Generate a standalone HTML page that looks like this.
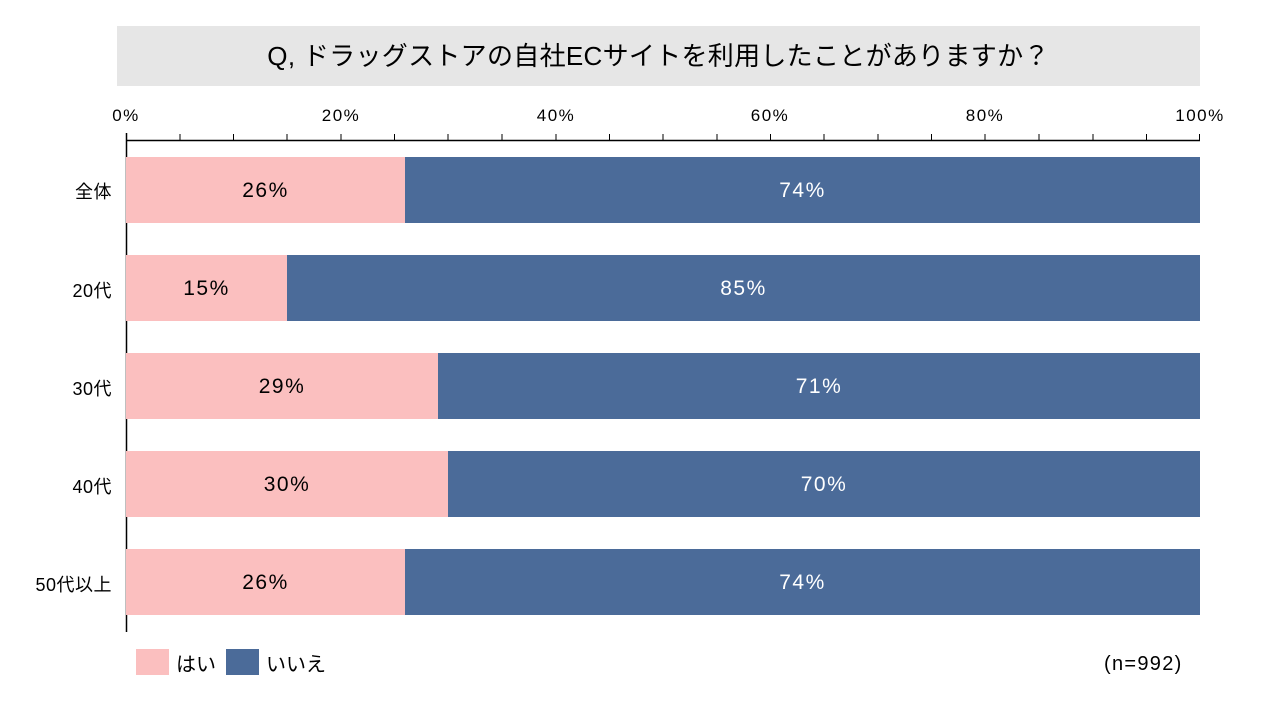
<!DOCTYPE html>
<html><head><meta charset="utf-8"><style>
body{margin:0;width:1280px;height:720px;background:#fff;font-family:"Liberation Sans","Noto Sans CJK JP",sans-serif;position:relative;overflow:hidden;color:#000}
.a{position:absolute}
.t{left:117px;top:26px;width:1083px;height:60px;background:#e6e6e6;font-size:26px;line-height:60px;text-align:center;letter-spacing:0.3px}
.tk{font-size:17px;top:106px;width:80px;text-align:center;letter-spacing:1.5px}
.bar{left:126px;width:1074px;height:66px;display:flex;font-size:21px;line-height:68px;text-align:center;letter-spacing:1.5px}
.p{background:#fbbfbf}.b{background:#4b6b99;color:#fff}
.lab{font-size:18px;right:1168px;text-align:right;white-space:nowrap;letter-spacing:0.5px}
</style></head><body>
<div class="a t">Q, ドラッグストアの自社ECサイトを利用したことがありますか？</div>
<div class="a tk" style="left:86px">0%</div>
<div class="a tk" style="left:301px">20%</div>
<div class="a tk" style="left:516px">40%</div>
<div class="a tk" style="left:730px">60%</div>
<div class="a tk" style="left:945px">80%</div>
<div class="a tk" style="left:1160px">100%</div>
<svg class="a" style="left:0;top:0" width="1280" height="720">
<line x1="126" y1="140.5" x2="1200" y2="140.5" stroke="#000" stroke-width="1.5"/>
<line x1="126.5" y1="133" x2="126.5" y2="632" stroke="#000" stroke-width="1.5"/>
<g stroke="#000" stroke-width="1">
<line x1="180" y1="134" x2="180" y2="140"/><line x1="233.5" y1="134" x2="233.5" y2="140"/><line x1="287" y1="134" x2="287" y2="140"/><line x1="341" y1="134" x2="341" y2="140"/><line x1="394.5" y1="134" x2="394.5" y2="140"/><line x1="448" y1="134" x2="448" y2="140"/><line x1="502" y1="134" x2="502" y2="140"/><line x1="556" y1="134" x2="556" y2="140"/><line x1="609.5" y1="134" x2="609.5" y2="140"/><line x1="663" y1="134" x2="663" y2="140"/><line x1="717" y1="134" x2="717" y2="140"/><line x1="770.5" y1="134" x2="770.5" y2="140"/><line x1="824" y1="134" x2="824" y2="140"/><line x1="878" y1="134" x2="878" y2="140"/><line x1="931.5" y1="134" x2="931.5" y2="140"/><line x1="985" y1="134" x2="985" y2="140"/><line x1="1039" y1="134" x2="1039" y2="140"/><line x1="1093" y1="134" x2="1093" y2="140"/><line x1="1146.5" y1="134" x2="1146.5" y2="140"/><line x1="1199.5" y1="134" x2="1199.5" y2="140"/>
</g></svg>
<div class="a bar" style="top:157px"><div class="p" style="width:279px">26%</div><div class="b" style="flex:1">74%</div></div>
<div class="a bar" style="top:255px"><div class="p" style="width:161px">15%</div><div class="b" style="flex:1">85%</div></div>
<div class="a bar" style="top:353px"><div class="p" style="width:312px">29%</div><div class="b" style="flex:1">71%</div></div>
<div class="a bar" style="top:451px"><div class="p" style="width:322px">30%</div><div class="b" style="flex:1">70%</div></div>
<div class="a bar" style="top:549px"><div class="p" style="width:279px">26%</div><div class="b" style="flex:1">74%</div></div>
<div class="a lab" style="top:178px">全体</div>
<div class="a lab" style="top:277px">20代</div>
<div class="a lab" style="top:375px">30代</div>
<div class="a lab" style="top:473px">40代</div>
<div class="a lab" style="top:571px">50代以上</div>
<div class="a p" style="left:136px;top:649px;width:33px;height:26px"></div>
<div class="a" style="left:176px;top:648px;font-size:20px">はい</div>
<div class="a b" style="left:226px;top:649px;width:33px;height:26px"></div>
<div class="a" style="left:266px;top:648px;font-size:20px">いいえ</div>
<div class="a" style="left:1104px;top:653px;font-size:20px;letter-spacing:1.3px">(n=992)</div>
</body></html>
